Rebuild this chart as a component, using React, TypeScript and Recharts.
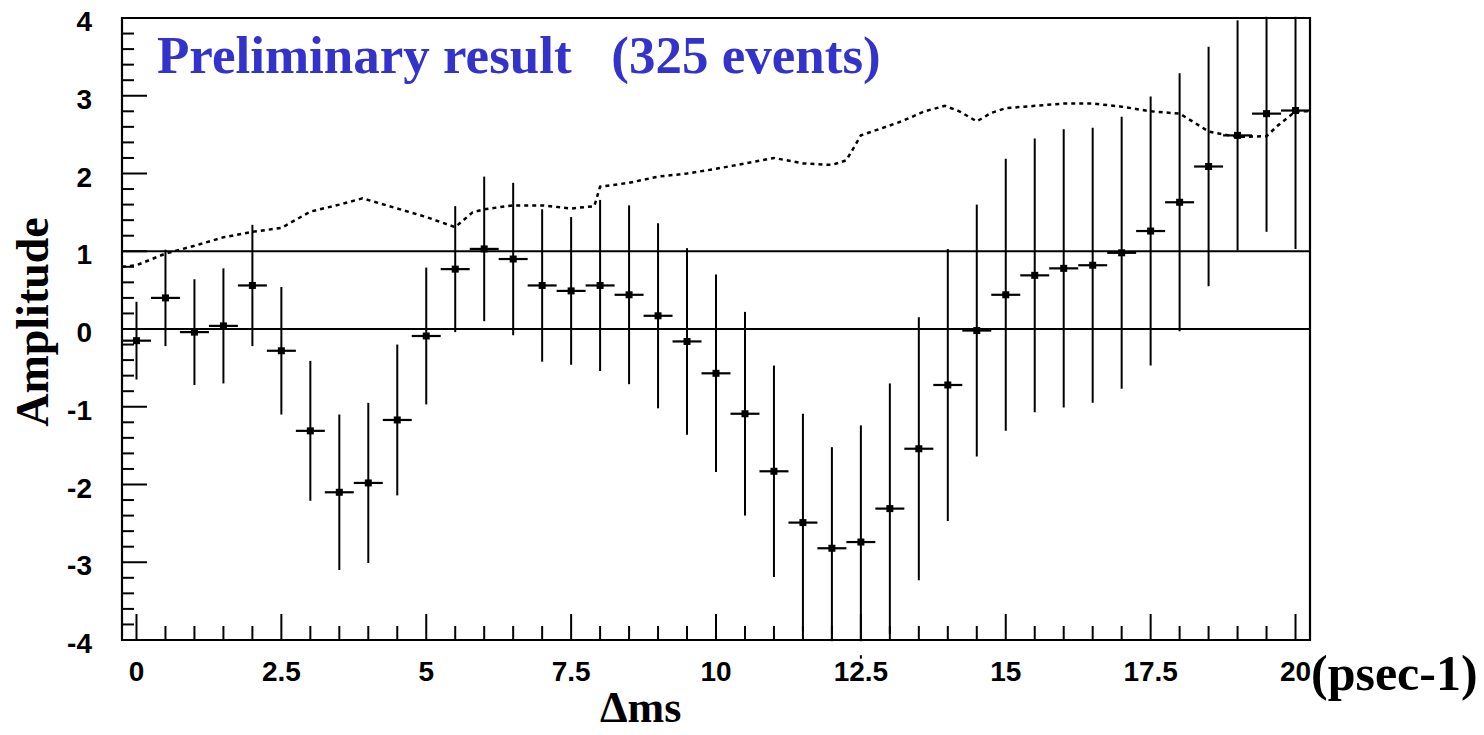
import React from 'react';
import {
  ComposedChart, Scatter, Line, XAxis, YAxis, ErrorBar, ReferenceLine, ReferenceArea
} from 'recharts';

// bin centres (psec-1)
const dms = [
  0, 0.5, 1, 1.5, 2, 2.5, 3, 3.5, 4, 4.5, 5, 5.5, 6, 6.5, 7, 7.5, 8, 8.5, 9, 9.5, 10,
  10.5, 11, 11.5, 12, 12.5, 13, 13.5, 14, 14.5, 15, 15.5, 16, 16.5, 17, 17.5, 18, 18.5, 19, 19.5, 20,
];

// measured amplitude per bin
const amplitude = [
  -0.15, 0.40, -0.04, 0.04, 0.56, -0.28, -1.31, -2.10, -1.98, -1.17, -0.09, 0.77, 1.03, 0.90,
  0.56, 0.49, 0.56, 0.44, 0.17, -0.16, -0.57, -1.09, -1.83, -2.49, -2.82, -2.74, -2.31, -1.54,
  -0.72, -0.02, 0.44, 0.69, 0.78, 0.82, 0.98, 1.26, 1.63, 2.09, 2.49, 2.77, 2.81,
];

// amplitude errors
const amplitudeErr = [
  0.50, 0.62, 0.68, 0.74, 0.78, 0.82, 0.90, 1.00, 1.03, 0.97, 0.88, 0.81, 0.93, 0.98,
  0.98, 0.95, 1.10, 1.15, 1.19, 1.20, 1.27, 1.31, 1.36, 1.40, 1.30, 1.50, 1.61, 1.69,
  1.75, 1.62, 1.75, 1.76, 1.79, 1.77, 1.75, 1.73, 1.66, 1.54, 1.48, 1.52, 1.78,
];

const binHalfWidth = 0.25;

// dotted sensitivity curve
const curveX = [
  -0.25, 0, 0.5, 1, 1.5, 2, 2.5, 3, 3.5, 3.9, 4.5, 5, 5.5, 5.8, 6, 6.5, 7, 7.5, 7.9, 8, 8.5,
  9, 9.5, 10, 10.5, 11, 11.5, 12, 12.25, 12.5, 12.85, 13.2, 13.6, 13.95, 14.2, 14.5, 14.75, 15,
  15.5, 16, 16.5, 17, 17.5, 18, 18.2, 18.5, 19, 19.5, 19.7, 19.85, 20, 20.25,
];
const curveY = [
  0.80, 0.82, 0.97, 1.07, 1.18, 1.25, 1.30, 1.51, 1.60, 1.68, 1.55, 1.44, 1.31, 1.50, 1.54,
  1.59, 1.59, 1.55, 1.58, 1.83, 1.88, 1.96, 2.00, 2.06, 2.13, 2.20, 2.13, 2.11, 2.17, 2.49,
  2.58, 2.67, 2.80, 2.87, 2.80, 2.67, 2.78, 2.84, 2.87, 2.90, 2.90, 2.86, 2.80, 2.77, 2.68,
  2.54, 2.47, 2.48, 2.62, 2.71, 2.80, 2.80,
];

const xMajorLabels = ['0', '2.5', '5', '7.5', '10', '12.5', '15', '17.5', '20'];
const yMajorLabels = ['-4', '-3', '-2', '-1', '0', '1', '2', '3', '4'];

const points = dms.map((x, i) => ({ x, y: amplitude[i], ey: amplitudeErr[i], ex: binHalfWidth }));
const curve = curveX.map((x, i) => ({ x, y: curveY[i] }));

const xTicks: number[] = [];
for (let k = 0; k <= 40; k++) xTicks.push(k * 0.5);
const yTicks: number[] = [];
for (let k = -20; k <= 20; k++) yTicks.push(Math.round(k * 0.2 * 10) / 10);

const labelFont = '"Liberation Sans", Arial, sans-serif';
const titleFont = '"Liberation Serif", "Times New Roman", serif';

const W = 1484;
const H = 735;
const margin = { top: 18, right: 174, bottom: 0, left: 0 };
const yAxisWidth = 122;
const xAxisHeight = 95;
const plotLeft = margin.left + yAxisWidth;
const plotRight = W - margin.right;
const plotBottom = H - margin.bottom - xAxisHeight;

const findLabel = (v: number, list: string[]) => list.find((s) => Math.abs(parseFloat(s) - v) < 1e-6);

const XTick = (props: any) => {
  const { x, y, payload } = props;
  const label = findLabel(payload.value, xMajorLabels);
  return (
    <g>
      <line x1={x} y1={y} x2={x} y2={y - (label ? 26 : 14)} stroke="#000" strokeWidth={2} />
      {label && (
        <text x={x} y={y + 41} textAnchor="middle" fontFamily={labelFont} fontWeight="bold" fontSize={28} fill="#000">
          {label}
        </text>
      )}
    </g>
  );
};

const YTick = (props: any) => {
  const { x, y, payload } = props;
  const label = findLabel(payload.value, yMajorLabels);
  return (
    <g>
      <line x1={x} y1={y} x2={x + (label ? 25 : 12)} y2={y} stroke="#000" strokeWidth={2} />
      {label && (
        <text x={x - 30} y={y + 13} textAnchor="end" fontFamily={labelFont} fontWeight="bold" fontSize={28} fill="#000">
          {label}
        </text>
      )}
    </g>
  );
};

const Marker = (props: any) => {
  const { cx, cy } = props;
  return <rect x={cx - 3.5} y={cy - 3.5} width={7} height={7} fill="#000" />;
};

const App: React.FC = () => {
  return (
    <div style={{ position: 'absolute', left: 0, top: 0, width: W, height: H, overflow: 'hidden' }}>
      <ComposedChart width={W} height={H} margin={margin}>
        <XAxis
          type="number"
          dataKey="x"
          domain={[-0.25, 20.25]}
          allowDataOverflow
          ticks={xTicks}
          interval={0}
          tick={<XTick />}
          tickLine={false}
          axisLine={false}
          tickSize={0}
          tickMargin={0}
          height={xAxisHeight}
        />
        <YAxis
          type="number"
          domain={[-4, 4]}
          allowDataOverflow
          ticks={yTicks}
          interval={0}
          tick={<YTick />}
          tickLine={false}
          axisLine={false}
          tickSize={0}
          tickMargin={0}
          width={yAxisWidth}
        />
        <ReferenceLine y={0} stroke="#000" strokeWidth={2.2} />
        <ReferenceLine y={1} stroke="#000" strokeWidth={2.2} />
        <Line
          data={curve}
          dataKey="y"
          type="linear"
          stroke="#000"
          strokeWidth={2.5}
          strokeDasharray="4 4"
          dot={false}
          activeDot={false}
          isAnimationActive={false}
        />
        <Scatter data={points} dataKey="y" shape={<Marker />} isAnimationActive={false}>
          <ErrorBar dataKey="ey" direction="y" width={0} stroke="#000" strokeWidth={2} isAnimationActive={false} />
          <ErrorBar dataKey="ex" direction="x" width={0} stroke="#000" strokeWidth={2.2} isAnimationActive={false} />
        </Scatter>
        <ReferenceArea x1={-0.25} x2={20.25} y1={-4} y2={4} fill="none" stroke="#000" strokeWidth={2.2} />
      </ComposedChart>
      <svg width={W} height={H} style={{ position: 'absolute', left: 0, top: 0, pointerEvents: 'none' }}>
        {/* hide error-bar ends that run past the frame */}
        <rect x={plotLeft + 1.2} y={0} width={plotRight - plotLeft - 2.4} height={margin.top - 1.2} fill="#fff" />
        <rect x={plotLeft + 1.2} y={plotBottom + 1.2} width={plotRight - plotLeft - 2.4} height={14} fill="#fff" />
        <text x={157} y={73} fontFamily={titleFont} fontWeight="bold" fontSize={53} fill="#3333cc" style={{ whiteSpace: 'pre' }}>
          {'Preliminary result   (325 events)'}
        </text>
        <text x={48} y={322} transform="rotate(-90, 48, 322)" textAnchor="middle" fontFamily={titleFont} fontWeight="bold" fontSize={46} fill="#000">
          Amplitude
        </text>
        <text x={600} y={722} fontFamily={titleFont} fontWeight="bold" fontSize={44} fill="#000">
          Δms
        </text>
        <text x={1311} y={690} fontFamily={titleFont} fontWeight="bold" fontSize={50} fill="#000">
          (psec-1)
        </text>
      </svg>
    </div>
  );
};

export default App;
